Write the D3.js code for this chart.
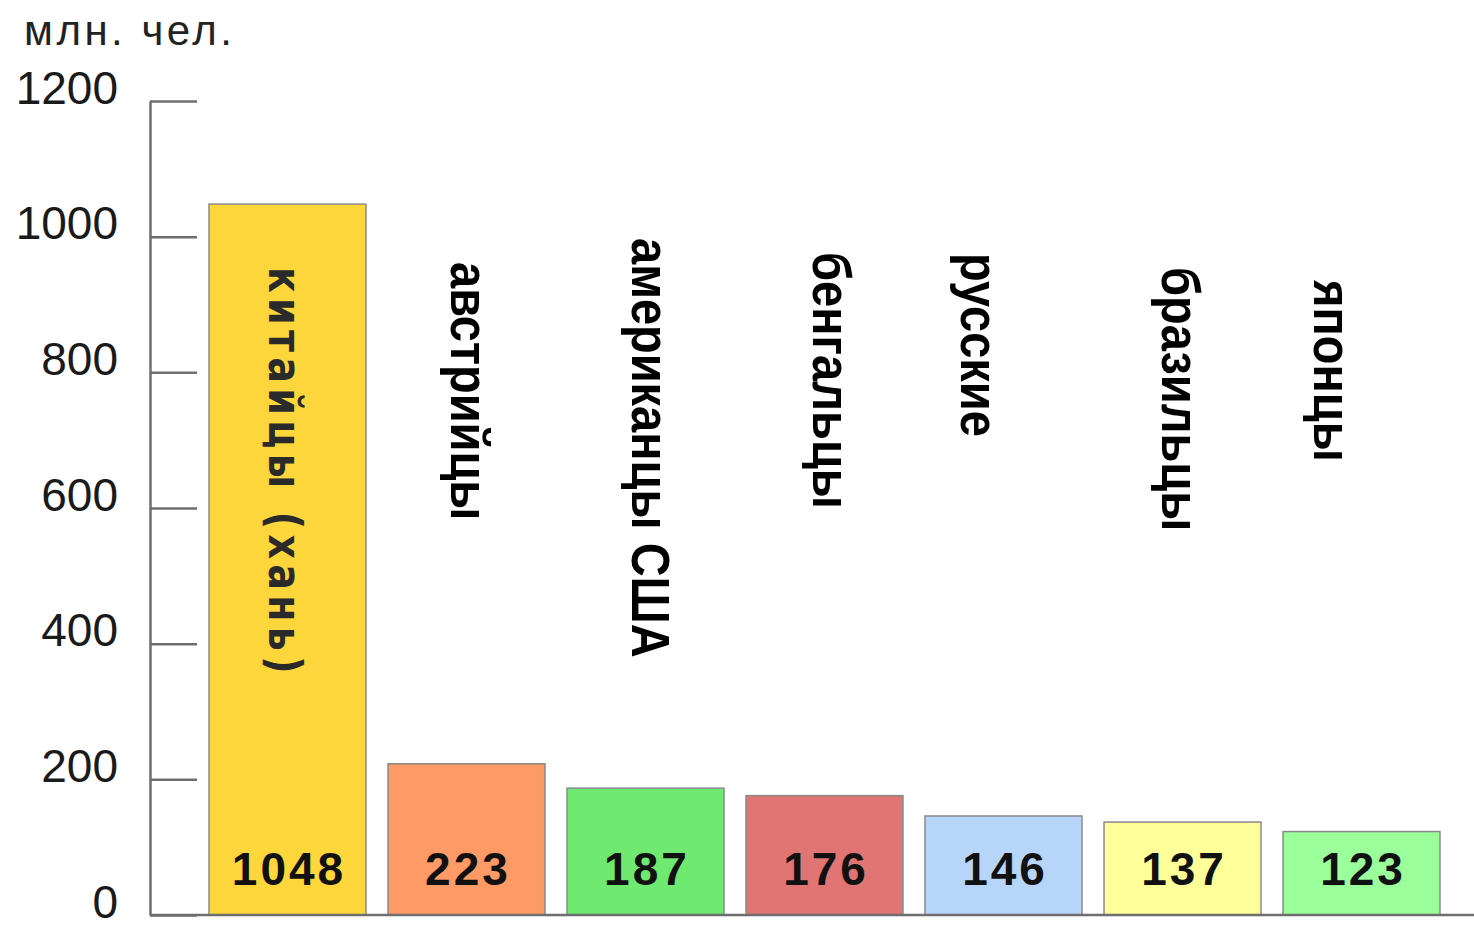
<!DOCTYPE html>
<html>
<head>
<meta charset="utf-8">
<script src="https://cdn.jsdelivr.net/npm/d3@7"></script>
<style>
  body { margin: 0; background: #fff; }
  svg { display: block; }
</style>
</head>
<body>
<div id="chart"></div>
<script>
var peoples = [ 'китайцы (хань)', 'австрийцы', 'американцы США', 'бенгальцы', 'русские', 'бразильцы', 'японцы' ];
var millions = [ 1048, 223, 187, 176, 146, 137, 123 ];
var colors = [ '#fdd63b', '#fe9a66', '#6fe96f', '#e07573', '#b7d5f9', '#ffff9a', '#9afe9a' ];
var yTicks = [ 0, 200, 400, 600, 800, 1000, 1200 ];
var unitLabel = 'млн. чел.';

var barChart = ( function() {

  var width = 1474, height = 925;
  var xScale = d3.scaleBand(),
    yScale = d3.scaleLinear();

  // label placement tweaks (px) to follow the original layout
  var labelShift = [ -3, 3, 5, 7, -24, -2, -29 ],
    labelTop = [ 267, 262, 238, 252, 253, 267, 280 ];

  function draw() {

    var svg = d3.select( '#chart' ).append( 'svg' )
      .attr( 'width', width )
      .attr( 'height', height );

    xScale
      .domain( peoples )
      .range( [ 209, 1440 ] )
      .paddingInner( 0.123 )
      .paddingOuter( 0 );

    yScale
      .domain( [ 0, 1200 ] )
      .range( [ 915, 101 ] );

    var data = peoples.map( ( p, i ) => ( { name: p, value: millions[ i ], color: colors[ i ], i: i } ) );

    // bars
    svg.selectAll( '.bar' )
      .data( data )
      .enter()
      .append( 'rect' )
        .attr( 'class', 'bar' )
        .attr( 'x', d => xScale( d.name ) )
        .attr( 'y', d => yScale( d.value ) )
        .attr( 'width', xScale.bandwidth() )
        .attr( 'height', d => yScale( 0 ) - yScale( d.value ) )
        .attr( 'fill', d => d.color )
        .attr( 'stroke', '#8a8a8a' )
        .attr( 'stroke-width', 1.5 );

    // y axis
    var yAxis = d3.axisLeft( yScale )
      .tickValues( yTicks )
      .tickFormat( d3.format( 'd' ) )
      .tickSizeInner( -47 )
      .tickSizeOuter( 0 )
      .tickPadding( 32 );

    var ax = svg.append( 'g' )
      .attr( 'transform', 'translate(150,0)' )
      .call( yAxis );

    ax.selectAll( 'path, line' )
      .attr( 'stroke', '#6e6e6e' )
      .attr( 'stroke-width', 2.5 );
    ax.selectAll( 'text' )
      .attr( 'fill', '#1a1a1a' )
      .attr( 'dy', '0.05em' )
      .style( 'font', '46px "Liberation Sans", Arial, sans-serif' );

    // baseline
    svg.append( 'line' )
      .attr( 'x1', 150 )
      .attr( 'x2', width )
      .attr( 'y1', yScale( 0 ) )
      .attr( 'y2', yScale( 0 ) )
      .attr( 'stroke', '#6e6e6e' )
      .attr( 'stroke-width', 2.5 );

    // unit label
    svg.append( 'text' )
      .attr( 'x', 24 )
      .attr( 'y', 45 )
      .attr( 'fill', '#222' )
      .style( 'font', '42px "Liberation Sans", Arial, sans-serif' )
      .style( 'letter-spacing', '3.5px' )
      .text( unitLabel );

    // values inside bars
    svg.selectAll( '.value' )
      .data( data )
      .enter()
      .append( 'text' )
        .attr( 'class', 'value' )
        .attr( 'x', d => xScale( d.name ) + xScale.bandwidth() / 2 + 1.5 )
        .attr( 'y', 885 )
        .attr( 'text-anchor', 'middle' )
        .attr( 'fill', '#111' )
        .style( 'font', 'bold 46px "Liberation Sans", Arial, sans-serif' )
        .style( 'letter-spacing', '3px' )
        .text( d => d.value );

    // rotated people names
    svg.selectAll( '.name' )
      .data( data )
      .enter()
      .append( 'text' )
        .attr( 'class', 'name' )
        .attr( 'transform', d => 'translate(' + ( xScale( d.name ) + xScale.bandwidth() / 2 + labelShift[ d.i ] ) + ',' + labelTop[ d.i ] + ') rotate(90) scale(1,' + ( d.i === 0 ? 1.2 : 1.15 ) + ')' )
        .attr( 'dy', '0.35em' )
        .attr( 'fill', d => d.i === 0 ? '#2a2a2a' : '#000' )
        .style( 'font', d => d.i === 0 ? 'bold 38px "DejaVu Sans", sans-serif' : 'bold 47px "Liberation Sans", Arial, sans-serif' )
        .style( 'letter-spacing', d => d.i === 0 ? '5.3px' : '0px' )
        .text( d => d.name );

  }

  return {
    draw: draw
  };
} )();

barChart.draw();
</script>
</body>
</html>
